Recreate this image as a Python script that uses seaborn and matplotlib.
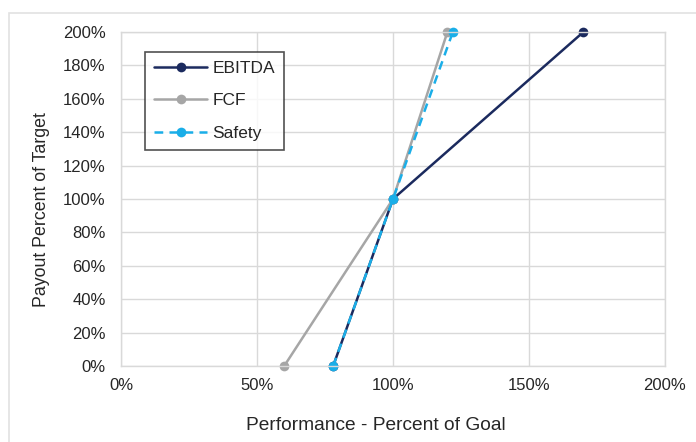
import pandas as pd
import numpy as np
import matplotlib.pyplot as plt
import matplotlib.patches as mpatches
from matplotlib.ticker import PercentFormatter
import seaborn as sns

# 数据（百分比）
perf_ebitda = [78, 100, 170]
payout_ebitda = [0, 100, 200]
perf_fcf = [60, 100, 120]
payout_fcf = [0, 100, 200]
perf_safety = [78, 100, 122]
payout_safety = [0, 100, 200]

series_names = ['EBITDA', 'FCF', 'Safety']
series_colors = ['#1B2A5E', '#A6A6A6', '#1AAEE8']

sns.set_style('white')
plt.rcParams['font.family'] = ['Liberation Sans', 'DejaVu Sans']

fig = plt.figure(figsize=(6.96, 4.42), dpi=100)
ax = fig.add_axes([121 / 696, 1 - 366 / 442, 544 / 696, 334 / 442])

# 外框
fig.patches.append(mpatches.Rectangle((8.5 / 696, -0.1), 1.2, (442 - 12.5) / 442 + 0.1,
                                      transform=fig.transFigure, fill=False,
                                      edgecolor='#E2E2E2', linewidth=1.2, zorder=0))

sns.lineplot(x=perf_ebitda, y=payout_ebitda, ax=ax, color=series_colors[0], marker='o',
             markersize=7, markeredgewidth=0, linewidth=1.8, label=series_names[0], sort=False)
sns.lineplot(x=perf_fcf, y=payout_fcf, ax=ax, color=series_colors[1], marker='o',
             markersize=7, markeredgewidth=0, linewidth=1.8, label=series_names[1], sort=False)
sns.lineplot(x=perf_safety, y=payout_safety, ax=ax, color=series_colors[2], marker='o',
             markersize=7, markeredgewidth=0, linewidth=1.8, linestyle=(0, (3.5, 2.5)),
             label=series_names[2], sort=False)
for ln in ax.get_lines():
    ln.set_clip_on(False)

ax.set_xlim(0, 200)
ax.set_ylim(0, 200)
ax.set_xticks(np.arange(0, 201, 50))
ax.set_yticks(np.arange(0, 201, 20))
ax.xaxis.set_major_formatter(PercentFormatter(decimals=0))
ax.yaxis.set_major_formatter(PercentFormatter(decimals=0))
ax.grid(True, color='#D9D9D9', linewidth=1)
ax.set_axisbelow(True)
for s in ax.spines.values():
    s.set_color('#D9D9D9')
    s.set_linewidth(1)
ax.tick_params(axis='both', length=0, labelsize=12, colors='#262626')
ax.tick_params(axis='x', pad=9)
ax.tick_params(axis='y', pad=11)

ax.set_xlabel('Performance - Percent of Goal', fontsize=13.8, color='#262626')
ax.set_ylabel('Payout Percent of Target', fontsize=12.8, color='#262626')
ax.xaxis.set_label_coords(0.469, -0.153)
ax.yaxis.set_label_coords(-0.13, 0.467)

leg = ax.legend(loc='upper left', bbox_to_anchor=(0.044, 0.94), fontsize=12.5, frameon=True,
                fancybox=False, edgecolor='#262626', handlelength=3.1, borderpad=0.5,
                labelspacing=1.0, handletextpad=0.3, borderaxespad=0)
leg.get_frame().set_linewidth(1.2)
for t in leg.get_texts():
    t.set_color('#262626')

fig.savefig('out.png', dpi=100)
